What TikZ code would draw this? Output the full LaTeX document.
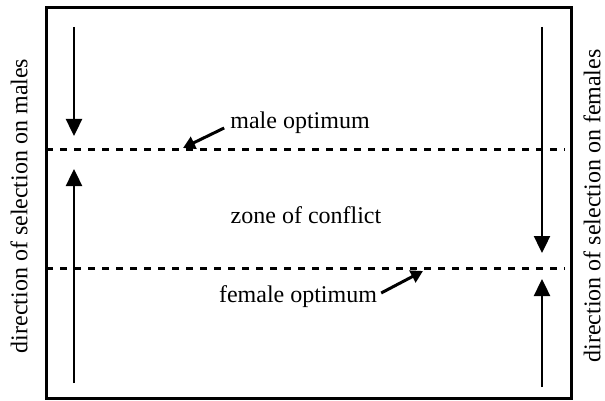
\documentclass[tikz,border=0pt]{standalone}
\usepackage{fontspec}
\setmainfont{Liberation Serif}
\usetikzlibrary{arrows.meta}
\begin{document}
\begin{tikzpicture}[x=1pt,y=-1pt,
  lbl/.style={font=\fontsize{24}{28}\selectfont, inner sep=0pt},
  frame/.style={line width=3pt},
  optline/.style={line width=3pt, dash pattern=on 7pt off 7pt},
  selarrow/.style={line width=2.4pt, -{Triangle[width=16pt,length=17pt]}},
  ptr/.style={line width=3pt, -{Triangle[width=13pt,length=12pt]}}]
\useasboundingbox (0,0) rectangle (605,401);
\draw[frame] (46,8) rectangle (571,398);
% optimum lines
\coordinate (mL) at (46,150); \coordinate (mR) at (565,150);
\coordinate (fL) at (46,268); \coordinate (fR) at (565,268);
\draw[optline] (mL) -- (mR);
\draw[optline] (fL) -- (fR);
% selection arrows
\coordinate (l1s) at (74,27);  \coordinate (l1e) at (74,136);
\coordinate (l2s) at (74,383); \coordinate (l2e) at (74,169);
\coordinate (r1s) at (542,27); \coordinate (r1e) at (542,253);
\coordinate (r2s) at (542,387);\coordinate (r2e) at (542,279);
\draw[selarrow] (l1s) -- (l1e);
\draw[selarrow] (l2s) -- (l2e);
\draw[selarrow] (r1s) -- (r1e);
\draw[selarrow] (r2s) -- (r2e);
% labels
\node[lbl] (male) at (300,123) {male optimum};
\node[lbl] (zone) at (306,215) {zone of conflict};
\node[lbl] (female) at (298,297) {female optimum};
\coordinate (mtip) at (183,148);
\coordinate (ftip) at (423,271);
\draw[ptr] (male.west) ++(-6,5) -- (mtip);
\draw[ptr] (female.east) ++(4,-4) -- (ftip);
\node[lbl, rotate=90] (lsel) at (19,206) {direction of selection on males};
\node[lbl, rotate=90] (rsel) at (592,206) {direction of selection on females};
\end{tikzpicture}
\end{document}
